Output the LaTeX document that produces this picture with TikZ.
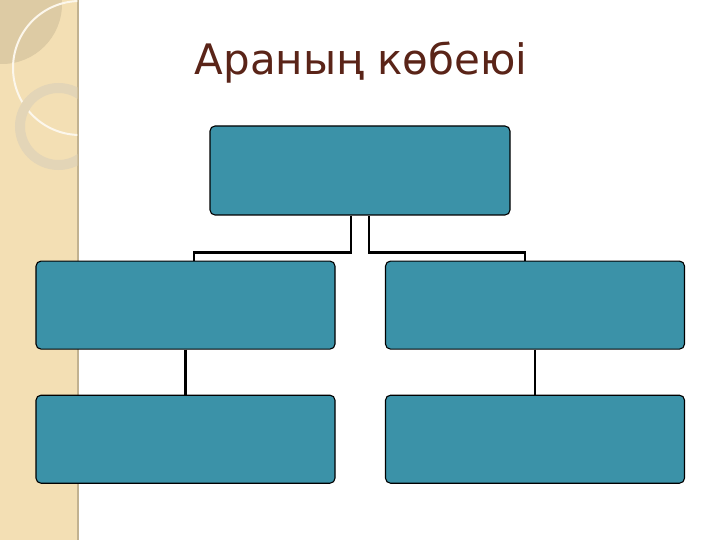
\documentclass[tikz,border=0pt]{standalone}
\usepackage{fontspec}
\newfontfamily\titlefont{DejaVu Sans}
\usetikzlibrary{positioning}
\definecolor{teal}{RGB}{59,146,168}
\definecolor{strip}{RGB}{243,223,180}
\definecolor{titlebrown}{RGB}{90,36,24}
\begin{document}
\begin{tikzpicture}[x=1pt, y=-1pt, box/.style={draw=black, line width=1.1pt, fill=teal,
      rounded corners=5pt, minimum width=299pt, minimum height=88pt, inner sep=0pt},
    link/.style={line width=2.8pt, black}]
  \useasboundingbox (0,0) rectangle (720,540);
  % left strip
  \fill[strip] (0,0) rectangle (78,540);
  \draw[line width=1.2pt, black!20!strip] (78,0) -- (78,540);
  \begin{scope}
    \clip (0,0) rectangle (77.4,540);
    \fill[black!9!strip] (2,4) circle (60);
    \draw[line width=2pt, white!75!strip] (80,68) circle (67);
    \draw[line width=10pt, white!50!gray!30!strip] (58.5,126.5) circle (38.5);
  \end{scope}
  % title
  \node[text=titlebrown, font=\titlefont\fontsize{42}{50}\selectfont] (title) at (361,63)
    {Араның көбеюі};
  % chart
  \node[box, minimum width=300pt, minimum height=89pt] (top) at (360,170.5) {};
  \node[box, below=45pt of top, xshift=-174.5pt] (lm) {}; \node[box, below=45pt of top,
    xshift=175pt] (rm) {}; \node[box, below=45pt of lm] (lb) {}; \node[box, below=45pt
    of rm] (rb) {};
  \draw[link] ([xshift=-9pt]top.south) -- ++(0,37) -| ([xshift=8.5pt]lm.north);
  \draw[link] ([xshift=9pt]top.south) -- ++(0,37) -| ([xshift=-10pt]rm.north);
  \draw[link] (lm) -- (lb); \draw[link] (rm) -- (rb);
\end{tikzpicture}
\end{document}
